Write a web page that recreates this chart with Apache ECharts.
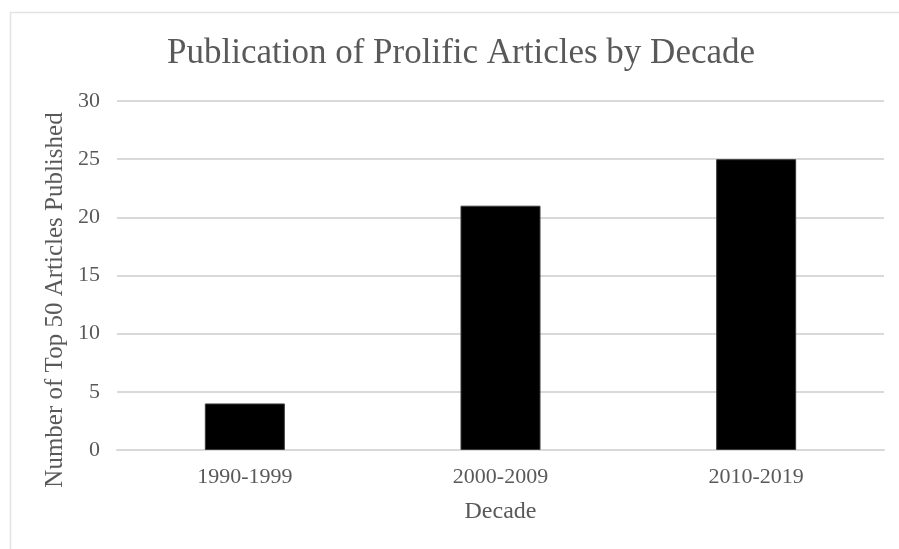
<!DOCTYPE html>
<html>
<head>
<meta charset="utf-8">
<title>Publication of Prolific Articles by Decade</title>
<script src="https://cdn.jsdelivr.net/npm/echarts@6/dist/echarts.min.js"></script>
<style>
  html, body { margin: 0; padding: 0; background: #ffffff; }
  #chart { width: 899px; height: 549px; }
</style>
</head>
<body>
<div id="chart"></div>
<script>
// Decades and the number of top-50 articles published in each
const decades = ['1990-1999', '2000-2009', '2010-2019'];
const articleCounts = [4, 21, 25];
const yTicks = { min: 0, max: 30, interval: 5 };
const yAxisTitle = 'Number of Top 50 Articles Published';

const serif = '"Liberation Serif", "DejaVu Serif", "Times New Roman", serif';
const textGray = '#595959';

const chart = echarts.init(document.getElementById('chart'), null, { renderer: 'canvas' });

chart.setOption({
  backgroundColor: '#ffffff',
  animation: false,
  title: {
    text: 'Publication of Prolific Articles by Decade',
    left: 456,
    top: 31,
    textAlign: 'center',
    textStyle: {
      fontFamily: serif,
      fontSize: 35,
      fontWeight: 'normal',
      color: textGray
    }
  },
  graphic: [{
    // frame around the chart area
    type: 'rect',
    shape: { x: 10.5, y: 12.5, width: 1200, height: 1200 },
    style: { fill: 'none', stroke: '#e3e3e3', lineWidth: 1.5 },
    silent: true
  }, {
    // vertical axis title, set a little below the plot's middle
    type: 'text',
    x: 55,
    y: 300,
    rotation: Math.PI / 2,
    style: {
      text: yAxisTitle,
      fontFamily: serif,
      fontSize: 25,
      fill: textGray,
      align: 'center',
      verticalAlign: 'middle'
    },
    silent: true
  }],
  grid: { left: 117, right: 15, top: 101, bottom: 99 },
  xAxis: {
    type: 'category',
    data: decades,
    name: 'Decade',
    nameLocation: 'middle',
    nameGap: 50,
    nameTextStyle: { fontFamily: serif, fontSize: 24, color: textGray },
    axisLine: { show: true, lineStyle: { color: '#d9d9d9', width: 2 } },
    axisTick: { show: false },
    axisLabel: { fontFamily: serif, fontSize: 22, color: textGray, margin: 16 }
  },
  yAxis: {
    type: 'value',
    min: yTicks.min,
    max: yTicks.max,
    interval: yTicks.interval,
    axisLine: { show: false },
    axisTick: { show: false },
    axisLabel: { fontFamily: serif, fontSize: 22, color: textGray, margin: 17 },
    splitLine: { lineStyle: { color: '#d9d9d9', width: 2 } }
  },
  series: [{
    type: 'bar',
    data: articleCounts,
    barWidth: 80,
    itemStyle: { color: '#000000', borderColor: '#3a3a3a', borderWidth: 1 }
  }]
});
</script>
</body>
</html>
